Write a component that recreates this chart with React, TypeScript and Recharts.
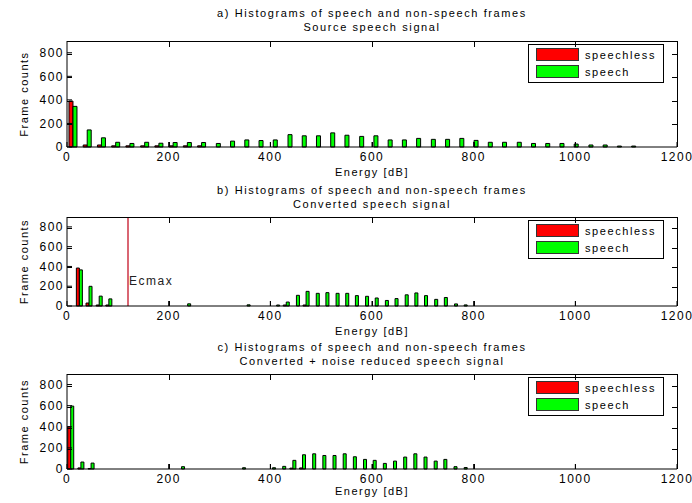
import { BarChart, Bar, XAxis, YAxis, Legend, ReferenceLine } from 'recharts';

// a) source speech signal
const energyA = [12, 40, 68, 96, 124, 153, 181, 209, 237, 265, 294, 322, 350, 378, 406, 435, 463, 491, 519, 547, 576, 604, 632, 660, 688, 717, 745, 773, 801, 829, 857, 886, 914, 942, 970, 998, 1027, 1055, 1083, 1111];
const speechlessA = [390, 17, 17, 10, 10, 10, 10, 10, 10, 10, 0, 0, 0, 0, 0, 0, 0, 0, 0, 0, 0, 0, 0, 0, 0, 0, 0, 0, 0, 0, 0, 0, 0, 0, 0, 0, 0, 0, 0, 0];
const speechA = [345, 145, 78, 40, 30, 40, 32, 38, 38, 38, 30, 50, 60, 55, 60, 105, 95, 95, 120, 100, 90, 95, 60, 60, 73, 65, 65, 73, 56, 40, 40, 40, 30, 30, 30, 25, 17, 17, 8, 8];

// b) converted speech signal
const energyB = [24, 43, 63, 82, 237, 354, 412, 431, 451, 470, 490, 509, 529, 548, 567, 587, 606, 626, 645, 665, 684, 703, 723, 742, 762, 781];
const speechlessB = [384, 30, 10, 10, 0, 0, 0, 10, 0, 10, 0, 0, 0, 0, 0, 0, 0, 0, 0, 0, 0, 0, 0, 0, 0, 0];
const speechB = [365, 199, 100, 72, 22, 12, 10, 40, 108, 148, 128, 135, 128, 128, 105, 98, 81, 56, 75, 113, 132, 105, 67, 86, 21, 11];

// c) converted + noise reduced
const energyC = [7, 27, 47, 225, 345, 404, 424, 444, 463, 483, 503, 523, 543, 563, 583, 602, 622, 642, 662, 682, 702, 722, 741, 761, 781];
const speechlessC = [401, 10, 5, 0, 0, 0, 0, 8, 10, 0, 0, 0, 0, 0, 0, 0, 0, 0, 0, 0, 0, 0, 0, 0, 0];
const speechC = [596, 66, 56, 22, 12, 12, 25, 82, 135, 144, 128, 128, 144, 116, 91, 82, 53, 75, 113, 144, 113, 75, 91, 22, 14];

const seriesNames = ['speechless', 'speech'];
const xTicks = [0, 200, 400, 600, 800, 1000, 1200];
const yTicks = [0, 200, 400, 600, 800];
const X_MAX = 1200;
const Y_MAX = 900;
const ECMAX = 120;

const PLOT_LEFT = 67;
const PLOT_WIDTH = 610;

const toRows = (energy: number[], speechless: number[], speech: number[]) =>
  energy.map((e, i) => ({ energy: e, speechless: speechless[i], speech: speech[i] }));

const renderLegend = (props: any) => {
  const items = (props.payload || [])
    .filter((p: any) => seriesNames.includes(p.value))
    .sort((a: any, b: any) => seriesNames.indexOf(a.value) - seriesNames.indexOf(b.value));
  return (
    <div style={{ width: 134, height: 37, border: '1px solid #000', background: '#fff', position: 'relative' }}>
      {items.map((p: any, i: number) => (
        <div key={p.value} style={{ position: 'absolute', left: 7, top: 3 + i * 17, display: 'flex', alignItems: 'center' }}>
          <span style={{ width: 41, height: 11, background: p.color, border: '1px solid #333', display: 'inline-block' }} />
          <span style={{ marginLeft: 6, fontSize: 11, letterSpacing: 1.6, color: '#000' }}>{p.value}</span>
        </div>
      ))}
    </div>
  );
};

const ecmaxLabel = (props: any) => {
  const vb = props.viewBox || {};
  return (
    <text x={vb.x + 1} y={vb.y + 68} fontSize={12} fill="#222">
      Ecmax
    </text>
  );
};

// matlab-style axes box: top/right edges and inward ticks on all four sides
const Frame = ({ plotTop, plotHeight }: { plotTop: number; plotHeight: number }) => {
  const tick = (style: any, key: string) => (
    <div key={key} style={{ position: 'absolute', background: '#000', ...style }} />
  );
  const xs = xTicks.slice(1, -1).map((t) => Math.round(PLOT_WIDTH * (t / X_MAX)));
  const ys = yTicks.slice(1).map((t) => Math.round(plotHeight * (1 - t / Y_MAX)));
  return (
    <div
      style={{
        position: 'absolute',
        left: PLOT_LEFT,
        top: plotTop,
        width: PLOT_WIDTH + 1,
        height: plotHeight,
        borderTop: '1px solid #000',
        borderRight: '1px solid #000',
        boxSizing: 'border-box',
        pointerEvents: 'none',
      }}
    >
      {xs.map((x) => tick({ left: x, top: 0, width: 1, height: 5 }, 't' + x))}
      {xs.map((x) => tick({ left: x, bottom: 0, width: 1, height: 5 }, 'b' + x))}
      {ys.map((y) => tick({ right: 0, top: y, width: 5, height: 1 }, 'r' + y))}
      {ys.map((y) => tick({ left: 0, top: y, width: 5, height: 1 }, 'l' + y))}
    </div>
  );
};

type PanelProps = {
  rows: any[];
  title: string;
  sub: string;
  top: number;
  height: number;
  marginTop: number;
  axisHeight: number;
  labelOffset: number;
  titleTop: number;
  barSize: number;
  ecmax?: number;
};

const Panel = ({ rows, title, sub, top, height, marginTop, axisHeight, labelOffset, titleTop, barSize, ecmax }: PanelProps) => (
  <div style={{ position: 'absolute', left: 0, top, width: 692, height }}>
    <BarChart
      width={692}
      height={height}
      data={rows}
      margin={{ top: marginTop, right: 692 - PLOT_LEFT - PLOT_WIDTH, bottom: 0, left: 0 }}
      barGap={0}
      barSize={barSize}
    >
      <XAxis
        dataKey="energy"
        type="number"
        domain={[0, X_MAX]}
        ticks={xTicks}
        interval={0}
        height={axisHeight}
        stroke="#000"
        tickSize={-5}
        tickMargin={10}
        tick={{ fontSize: 12, fill: '#000' }}
        label={{ value: 'Energy [dB]', position: 'insideBottom', offset: labelOffset, fontSize: 11, fill: '#000' }}
      />
      <YAxis
        type="number"
        domain={[0, Y_MAX]}
        ticks={yTicks}
        interval={0}
        width={PLOT_LEFT}
        stroke="#000"
        tickSize={-5}
        tickMargin={8}
        tick={{ fontSize: 12, fill: '#000' }}
        label={{ value: 'Frame counts', angle: -90, position: 'insideLeft', offset: 24, fontSize: 11, fill: '#000', style: { textAnchor: 'middle' } }}
      />
      <Legend
        layout="vertical"
        align="center"
        verticalAlign="middle"
        content={renderLegend}
        wrapperStyle={{ left: 528, top: marginTop + 3, width: 136, height: 39 }}
      />
      {ecmax !== undefined && (
        <ReferenceLine x={ecmax} stroke="#cc3344" strokeWidth={1.5} label={ecmaxLabel} />
      )}
      <Bar dataKey="speechless" name="speechless" fill="#ff0000" stroke="#000" strokeWidth={1} isAnimationActive={false} />
      <Bar dataKey="speech" name="speech" fill="#00ff00" stroke="#000" strokeWidth={1} isAnimationActive={false} />
    </BarChart>
    <Frame plotTop={marginTop} plotHeight={height - marginTop - axisHeight} />
    <div
      style={{
        position: 'absolute',
        left: PLOT_LEFT,
        top: titleTop,
        width: PLOT_WIDTH,
        textAlign: 'center',
        fontSize: 11,
        lineHeight: '14px',
        letterSpacing: 1.6,
        color: '#000',
      }}
    >
      <div>{title}</div>
      <div>{sub}</div>
    </div>
  </div>
);

export default function App() {
  return (
    <div style={{ position: 'relative', width: 692, height: 503, background: '#fff', fontFamily: '"Liberation Sans", Arial, sans-serif' }}>
      <style>{'body{margin:0} svg text{letter-spacing:1.5px}'}</style>
      <Panel
        rows={toRows(energyA, speechlessA, speechA)}
        title="a) Histograms of speech and non-speech frames"
        sub="Source speech signal"
        top={0}
        height={186}
        marginTop={41}
        axisHeight={39}
        labelOffset={10}
        titleTop={6}
        barSize={4}
      />
      <Panel
        rows={toRows(energyB, speechlessB, speechB)}
        title="b) Histograms of speech and non-speech frames"
        sub="Converted speech signal"
        top={180}
        height={164}
        marginTop={37}
        axisHeight={38}
        labelOffset={9}
        titleTop={3}
        barSize={3}
        ecmax={ECMAX}
      />
      <Panel
        rows={toRows(energyC, speechlessC, speechC)}
        title="c) Histograms of speech and non-speech frames"
        sub="Converted + noise reduced speech signal"
        top={336}
        height={167}
        marginTop={38}
        axisHeight={34}
        labelOffset={8}
        titleTop={4}
        barSize={3}
      />
    </div>
  );
}
